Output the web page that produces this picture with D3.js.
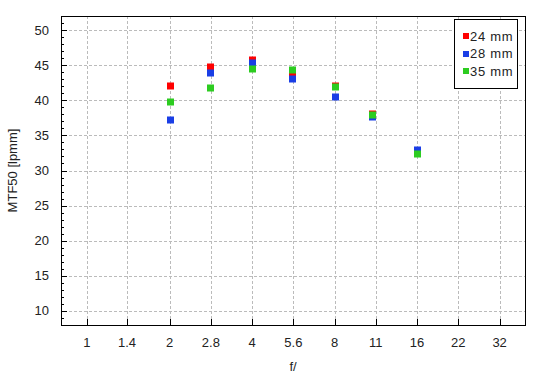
<!DOCTYPE html>
<html><head><meta charset="utf-8">
<script src="https://cdn.jsdelivr.net/npm/d3@7"></script>
<style>body{margin:0;background:#fff}text{font-family:"Liberation Sans",Arial,sans-serif;fill:#222}</style>
</head><body>
<svg id="c" width="550" height="380"></svg>
<script>
const fstops = [2, 2.8, 4, 5.6, 8, 11, 16];
const tickLabels = ["1","1.4","2","2.8","4","5.6","8","11","16","22","32"];
const tickValues = [1,1.4,2,2.83,4,5.66,8,11.3,16,22.6,32];
const series = ["24 mm","28 mm","35 mm"];
const colors = ["#ff0000","#1a3ee6","#2ccc20"];
const mtf24 = [42.0, 44.7, 45.8, 43.7, 42.1, 38.0, 32.6];
const mtf28 = [37.15, 43.85, 45.3, 43.1, 40.4, 37.6, 32.85];
const mtf35 = [39.7, 41.7, 44.4, 44.25, 41.85, 37.85, 32.4];
const values = [mtf24, mtf28, mtf35];
const yTicks = [10,15,20,25,30,35,40,45,50];

const L=61, R=525, T=16, B=325;
const svg = d3.select("#c");
const x = d3.scaleLog().base(2).domain([0.804, 39.6]).range([L, R]);
const y = d3.scaleLinear().domain([8, 52]).range([B, T]);

// grid
const g = svg.append("g");
g.selectAll(".vg").data(tickValues).join("line")
  .attr("x1", d=>Math.round(x(d))+0.5).attr("x2", d=>Math.round(x(d))+0.5)
  .attr("y1", T).attr("y2", B)
  .attr("stroke","#bbb").attr("stroke-dasharray","3,2");
g.selectAll(".hg").data(yTicks).join("line")
  .attr("y1", d=>Math.round(y(d))+0.5).attr("y2", d=>Math.round(y(d))+0.5)
  .attr("x1", L+8).attr("x2", R)
  .attr("stroke","#bbb").attr("stroke-dasharray","3,2");

// minor y ticks
const minor = d3.range(8, 53, 1);
g.selectAll(".mt").data(minor).join("line")
  .attr("y1", d=>Math.round(y(d))+0.5).attr("y2", d=>Math.round(y(d))+0.5)
  .attr("x1", L).attr("x2", d=> d%5===0 ? L+6 : L+3)
  .attr("stroke","#000");
// x ticks
g.selectAll(".xt").data(tickValues).join("line")
  .attr("x1", d=>Math.round(x(d))+0.5).attr("x2", d=>Math.round(x(d))+0.5)
  .attr("y1", B).attr("y2", B-6).attr("stroke","#000");

// frame
svg.append("rect").attr("x",L+0.5).attr("y",T+0.5).attr("width",R-L).attr("height",B-T)
  .attr("fill","none").attr("stroke","#000");

// labels
svg.selectAll(".yl").data(yTicks).join("text")
  .attr("x", 49).attr("y", d=>y(d)+4.5).attr("text-anchor","end")
  .attr("font-size",13).text(d=>d);
svg.selectAll(".xl").data(tickValues).join("text")
  .attr("x", d=>x(d)).attr("y", 347).attr("text-anchor","middle")
  .attr("font-size",13).text((d,i)=>tickLabels[i]);
svg.append("text").attr("x",(L+R)/2).attr("y",371).attr("text-anchor","middle")
  .attr("font-size",13).text("f/");
svg.append("text").attr("transform",`translate(17,${(T+B)/2}) rotate(-90)`)
  .attr("text-anchor","middle").attr("font-size",13).text("MTF50 [lpmm]");

// points
values.forEach((vals,si)=>{
  svg.append("g").selectAll("rect").data(vals).join("rect")
    .attr("x",(d,i)=>Math.round(x(fstops[i]))-3)
    .attr("y",d=>Math.round(y(d))-3.5)
    .attr("width",7).attr("height",7)
    .attr("fill",colors[si]);
});

// legend
const lg = svg.append("g");
lg.append("rect").attr("x",454.5).attr("y",19.5).attr("width",63).attr("height",69)
  .attr("fill","#fff").attr("stroke","#000");
series.forEach((s,i)=>{
  const cy = 36 + i*17.7;
  lg.append("rect").attr("x",463).attr("y",Math.round(cy)-3).attr("width",6).attr("height",6).attr("fill",colors[i]);
  lg.append("text").attr("x",470).attr("y",cy+4.5).attr("font-size",13)
    .attr("letter-spacing","0.7px").text(s);
});
</script>
</body></html>
